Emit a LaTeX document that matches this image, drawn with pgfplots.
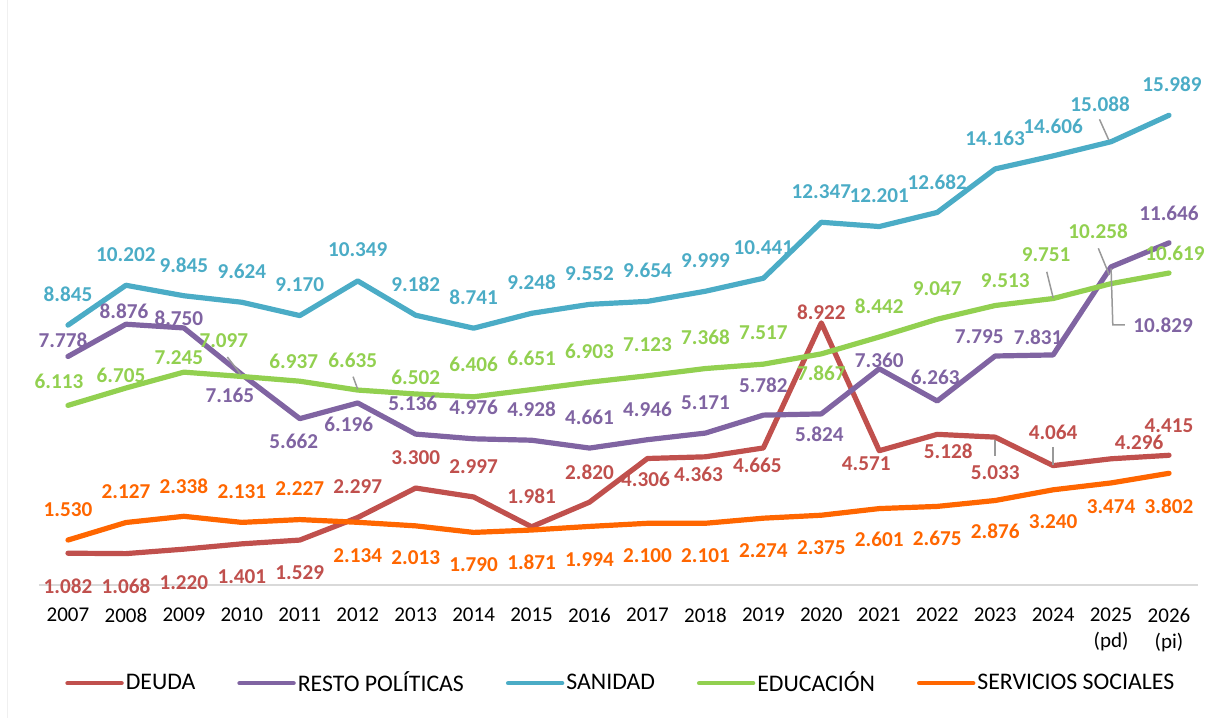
\documentclass[border=0pt]{standalone}
\usepackage{fontspec}
\setmainfont{Carlito}
\usepackage{pgfplots}
\usepackage{pgfplotstable}
\pgfplotsset{compat=1.18}
\definecolor{cDeuda}{HTML}{C0504D}
\definecolor{cResto}{HTML}{8064A2}
\definecolor{cSanidad}{HTML}{4BACC6}
\definecolor{cEduc}{HTML}{92D050}
\definecolor{cServ}{HTML}{FF6600}
\definecolor{cAxis}{HTML}{D9D9D9}

% x = year index (0 = 2007), y = value, dx/dy = label offset in px (dy>0 = below)
\pgfplotstableread{
x y dx dy
0 1082 0 33
1 1068 0 33
2 1220 0 33
3 1401 0 33
4 1529 0 33
5 2297 0 -31
6 3300 0 -30
7 2997 0 -30
8 1981 0 -31
9 2820 0 -30
10 4306 -2 21
11 4363 -7 18
12 4665 -6 17
13 8922 0 -11
14 4571 -13 13
15 5128 11 17
16 5033 0 35
17 4064 0 -33
18 4296 28 -16
19 4415 0 -30
}\tDeuda

\pgfplotstableread{
x y dx dy
0 7778 -5 -16
1 8876 -2 -13
2 8750 -5 -10
3 7165 -12 21
4 5662 -6 23
5 6196 -9 21
6 5136 -3 -31
7 4976 0 -31
8 4928 0 -31
9 4661 0 -31
10 4946 0 -30
11 5171 0 -30
12 5782 0 -30
13 5824 -2 20
14 7360 0 -8
15 6263 -2 -24
16 7795 -16 -19
17 7831 -15 -18
18 10829 52 58
19 11646 0 -30
}\tResto

\pgfplotstableread{
x y dx dy
0 8845 0 -31
1 10202 0 -31
2 9845 0 -31
3 9624 0 -31
4 9170 0 -31
5 10349 0 -31
6 9182 0 -31
7 8741 0 -31
8 9248 0 -31
9 9552 0 -31
10 9654 0 -31
11 9999 0 -31
12 10441 0 -31
13 12347 0 -31
14 12201 0 -31
15 12682 0 -30
16 14163 0 -31
17 14606 0 -30
18 15088 -11 -37
19 15989 3 -31
}\tSanidad

\pgfplotstableread{
x y dx dy
0 6113 -9 -24
1 6705 -5 -13
2 7245 -5 -15
3 7097 -18 -36
4 6937 -6 -20
5 6635 -5 -30
6 6502 0 -17
7 6406 0 -32
8 6651 0 -31
9 6903 0 -31
10 7123 0 -31
11 7368 0 -31
12 7517 0 -31
13 7867 0 19
14 8442 0 -31
15 9047 0 -31
16 9513 10 -25
17 9751 -7 -44
18 10258 -13 -52
19 10619 6 -20
}\tEduc

\pgfplotstableread{
x y dx dy
0 1530 0 -30
1 2127 0 -31
2 2338 0 -30
3 2131 0 -31
4 2227 0 -31
5 2134 0 33
6 2013 0 32
7 1790 0 32
8 1871 0 32
9 1994 0 33
10 2100 0 32
11 2101 0 32
12 2274 0 32
13 2375 0 32
14 2601 0 31
15 2675 0 32
16 2876 0 31
17 3240 0 32
18 3474 0 24
19 3802 0 33
}\tServ

\pgfplotsset{
  lab/.style={
    forget plot,
    nodes near coords={\textbf{\pgfmathprintnumber[fixed,precision=0,1000 sep={.},assume math mode=true]{\pgfplotspointmeta}}},
    visualization depends on={\thisrow{dx}\as\dx},
    visualization depends on={\thisrow{dy}\as\dy},
    nodes near coords style={anchor=center, text=#1, font=\bfseries\fontsize{10.6}{12}\selectfont, xshift={(\dx)*0.5pt}, yshift={-(\dy)*0.5pt}},
  },
}

\begin{document}
\begin{tikzpicture}[x=1pt,y=1pt]
\useasboundingbox (0,0) rectangle (614,359);
\draw[black!6, line width=0.5pt] (3.75,0) -- (3.75,359);
\begin{axis}[
  at={(19.5pt,66.5pt)}, anchor=south west,
  scale only axis, width=579.5pt, height=279.1pt,
  xmin=-0.5, xmax=19.5, ymin=0, ymax=19000,
  axis x line*=bottom, axis y line=none,
  x axis line style={-, draw=cAxis, line width=1pt},
  xtick={0,...,19},
  xticklabels={2007,2008,2009,2010,2011,2012,2013,2014,2015,2016,2017,2018,2019,2020,2021,2022,2023,2024,{2025\\(pd)},{2026\\(pi)}},
  major tick length=0pt,
  xticklabel style={font=\fontsize{10.5}{13}\selectfont, align=center, anchor=north, yshift=-8pt, text=black},
  clip=false,
  every axis plot/.append style={line width=2.6pt, line join=round, line cap=round, mark=none},
  legend columns=5,
  legend cell align=left,
  legend image code/.code={\draw[#1, line width=2.2pt, line cap=round] (0pt,0pt) -- (27pt,0pt);},
  legend style={draw=none, fill=none, at={(axis description cs:0.0224,-0.176)}, anchor=west,
    font=\fontsize{11.9}{14}\selectfont, inner sep=0pt,
    nodes={inner sep=1pt},
    /tikz/every odd column/.append style={column sep=0pt},
    /tikz/every even column/.append style={column sep=20pt}},
]
\addplot[color=cDeuda, lab=cDeuda] table[x=x,y=y] {\tDeuda};
\addplot[color=cResto, lab=cResto] table[x=x,y=y] {\tResto};
\addplot[color=cSanidad, lab=cSanidad] table[x=x,y=y] {\tSanidad};
\addplot[color=cEduc, lab=cEduc] table[x=x,y=y] {\tEduc};
\addplot[color=cServ, lab=cServ] table[x=x,y=y] {\tServ};
\addlegendimage{color=cDeuda}
\addlegendentry{DEUDA}
\addlegendimage{color=cResto}
\addlegendentry{RESTO POLÍTICAS}
\addlegendimage{color=cSanidad}
\addlegendentry{SANIDAD}
\addlegendimage{color=cEduc}
\addlegendentry{EDUCACIÓN}
\addlegendimage{color=cServ}
\addlegendentry{SERVICIOS SOCIALES}
% leader lines
\draw[black!40, line width=0.75pt] (axis cs:2.75,7760) -- (axis cs:2.99,7150);
\draw[black!40, line width=0.75pt] (axis cs:4.92,7090) -- (axis cs:5,6660);
\draw[black!40, line width=0.75pt] (axis cs:16.89,10660) -- (axis cs:17,9780);
\draw[black!40, line width=0.75pt] (axis cs:17.78,11460) -- (axis cs:17.97,10550);
\draw[black!40, line width=0.75pt] (axis cs:18,10780) -- (axis cs:18.03,8850) -- (axis cs:18.24,8850);
\draw[black!40, line width=0.75pt] (axis cs:17.8,15850) -- (axis cs:17.96,15150);
\draw[black!40, line width=0.75pt] (axis cs:16,4950) -- (axis cs:16,4400);
\draw[black!40, line width=0.75pt] (axis cs:17,4700) -- (axis cs:17,4100);
\end{axis}
\end{tikzpicture}
\end{document}
